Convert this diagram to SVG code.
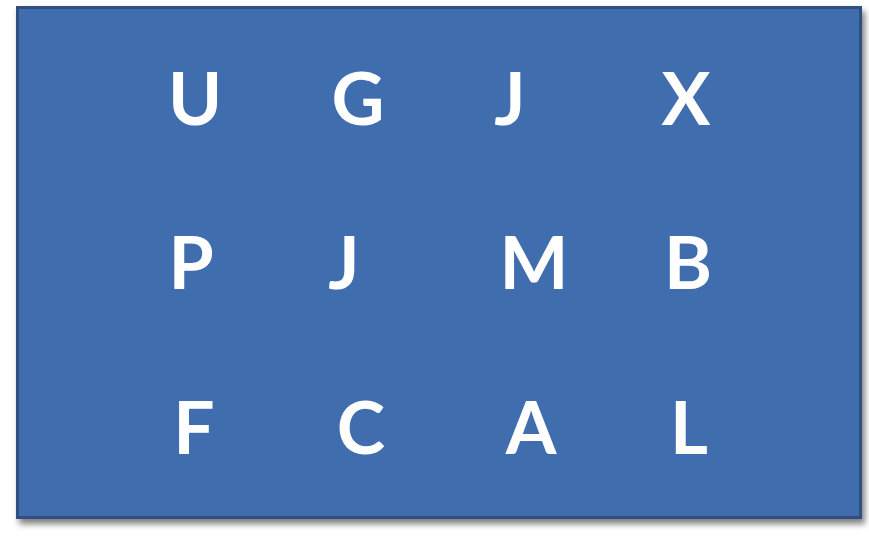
<svg xmlns="http://www.w3.org/2000/svg" width="869" height="541" viewBox="0 0 869 541">
<defs>
<filter id="sh" x="-5%" y="-5%" width="112%" height="115%">
<feGaussianBlur in="SourceAlpha" stdDeviation="3"/>
<feOffset dx="3" dy="5" result="b"/>
<feComponentTransfer><feFuncA type="linear" slope="0.5"/></feComponentTransfer>
<feMerge><feMergeNode/><feMergeNode in="SourceGraphic"/></feMerge>
</filter>
<style>
.l{font-family:Lato,"Open Sans",sans-serif;font-weight:bold;font-size:73px;fill:#fff;text-anchor:middle}
</style>
</defs>
<rect width="869" height="541" fill="#fff"/>
<g id="board">
<rect x="17.5" y="7.5" width="843" height="510" fill="#3F6DAE" stroke="#2F4F80" stroke-width="3" filter="url(#sh)"/>
</g>
<g id="r1">
<text class="l" x="195" y="125">U</text>
<text class="l" x="358" y="125">G</text>
<text class="l" x="510" y="125">J</text>
<text class="l" x="686" y="125">X</text>
</g>
<g id="r2">
<text class="l" x="191" y="289">P</text>
<text class="l" x="344" y="289">J</text>
<text class="l" x="534" y="289">M</text>
<text class="l" x="688" y="289">B</text>
</g>
<g id="r3">
<text class="l" x="194" y="454">F</text>
<text class="l" x="361" y="454">C</text>
<text class="l" x="531" y="454">A</text>
<text class="l" x="689" y="454">L</text>
</g>
</svg>
